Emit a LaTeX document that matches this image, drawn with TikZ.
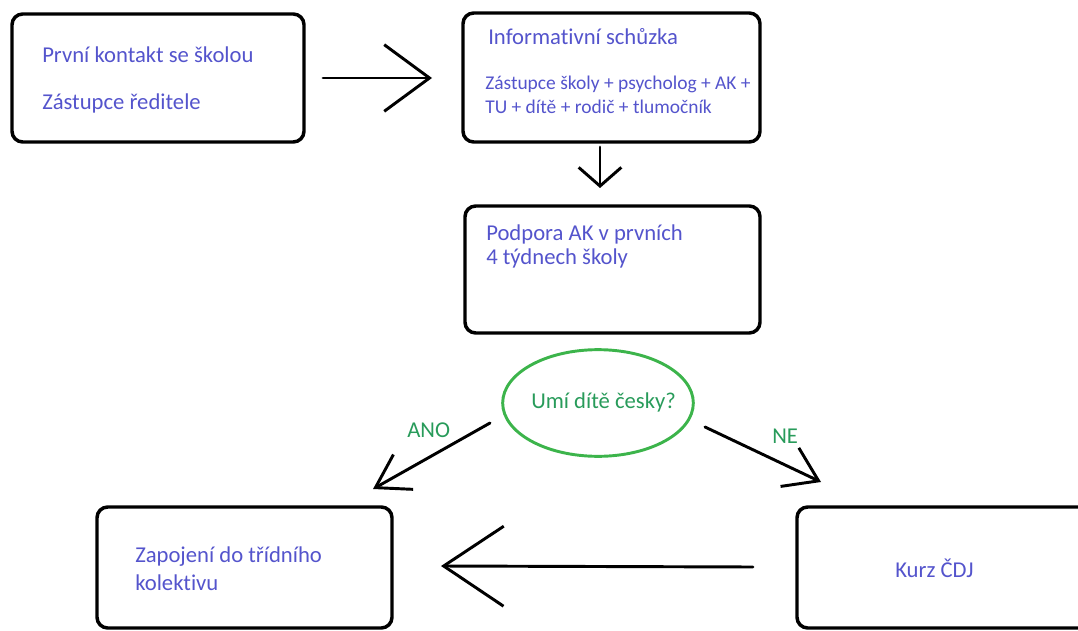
\documentclass[tikz,border=0pt]{standalone}
\usepackage{fontspec}
\setmainfont{Carlito}[Ligatures=NoCommon]
\usepackage{xcolor}
\usetikzlibrary{arrows.meta, shapes.geometric, positioning}
\definecolor{textblue}{RGB}{84, 84, 204}
\definecolor{askgreen}{RGB}{40, 155, 90}
\definecolor{ringgreen}{RGB}{60, 180, 75}

\begin{document}
\begin{tikzpicture}[x=0.75pt, y=-0.75pt,
    box/.style={draw, rectangle, rounded corners=8pt, line width=2.6pt, inner sep=0pt},
    boxtext/.style={textblue, anchor=base west, inner sep=0pt, font=\fontsize{17}{20}\selectfont},
    smalltext/.style={boxtext, font=\fontsize{14.6}{18}\selectfont},
    answer/.style={askgreen, anchor=base west, inner sep=0pt, font=\fontsize{17}{20}\selectfont},
    hand/.style={line width=2.2pt, line cap=round}]
  \useasboundingbox (0,0) rectangle (1078,631);

  % Boxes
  \node[box, minimum width=219pt, minimum height=96pt] (contact) at (158,78) {};
  \node[box, minimum width=222.75pt, minimum height=96.75pt] (meeting) at (611.5,77.5) {};
  \node[box, minimum width=221.25pt, minimum height=95.25pt] (support) at (612.5,269.5) {};
  \node[box, minimum width=221.25pt, minimum height=90.75pt] (joining) at (244.5,567.5) {};
  \node[box, minimum width=227.25pt, minimum height=90.75pt] (course) at (948.5,567.5) {};

  % Question
  \node[draw=ringgreen, ellipse, line width=2.2pt, minimum width=143pt, minimum height=80pt, inner sep=0pt] (ask) at (598,403) {};

  % Texts
  \node[boxtext] (contactA) at (42,63) {První kontakt se školou};
  \node[boxtext] (contactB) at (42,110) {Zástupce ředitele};
  \node[boxtext] (meetingA) at (488,45) {Informativní schůzka};
  \node[smalltext] (meetingB) at (485,90) {Zástupce školy + psycholog + AK +};
  \node[smalltext] (meetingC) at (485,114) {TU + dítě + rodič + tlumočník};
  \node[boxtext] (supportA) at (486,240) {Podpora AK v prvních};
  \node[boxtext] (supportB) at (486,264) {4 týdnech školy};
  \node[answer] (askText) at (531,408) {Umí dítě česky?};
  \node[answer] (yes) at (407,437) {ANO};
  \node[answer] (no) at (772,443) {NE};
  \node[boxtext] (joiningA) at (135,562) {Zapojení do třídního};
  \node[boxtext] (joiningB) at (135,590) {kolektivu};
  \node[boxtext] (courseA) at (895,577) {Kurz ČDJ};

  % Arrow ends
  \coordinate (toMeetS) at (323,78);
  \coordinate (toMeetE) at (432,78);
  \coordinate (toSuppS) at (600,147);
  \coordinate (toSuppE) at (600,188);
  \coordinate (yesS) at (490,423);
  \coordinate (yesE) at (373,489);
  \coordinate (noS) at (705,427);
  \coordinate (noE) at (821,482);
  \coordinate (backS) at (753,567);
  \coordinate (backE) at (441,566);

  % Arrows
  \draw[hand, -{Straight Barb[length=34pt, width=50pt]}] (toMeetS) -- (toMeetE);
  \draw[hand, -{Straight Barb[length=14pt, width=32pt]}] (toSuppS) -- (toSuppE);
  \draw[hand, -{Straight Barb[length=24pt, width=30pt]}] (yesS) -- (yesE);
  \draw[hand, -{Straight Barb[length=24pt, width=32pt]}] (noS) -- (noE);
  \draw[hand, -{Straight Barb[length=45pt, width=60pt]}] (backS) -- (backE);
\end{tikzpicture}
\end{document}
